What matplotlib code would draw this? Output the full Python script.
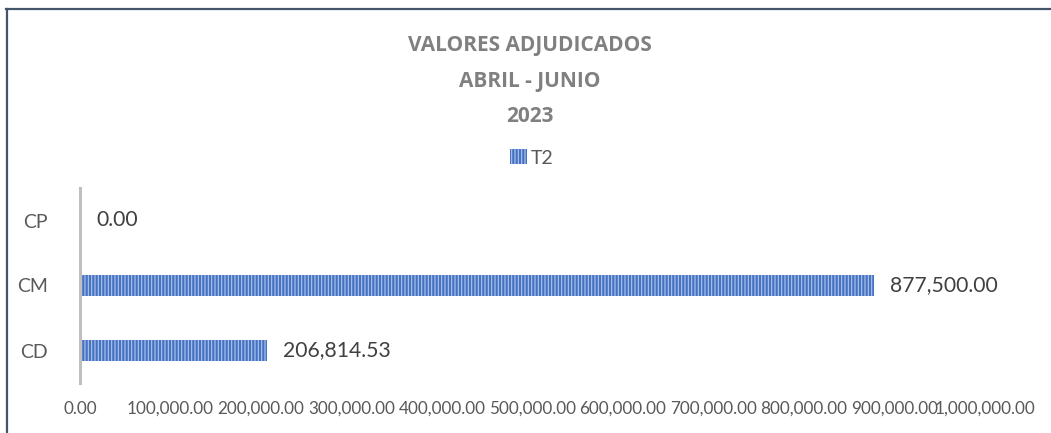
import matplotlib
matplotlib.use("Agg")
import matplotlib.pyplot as plt
from matplotlib.lines import Line2D
from matplotlib.ticker import FuncFormatter, MultipleLocator

categories = ["CD", "CM", "CP"]
values = [206814.53, 877500.00, 0.00]
series_name = "T2"
title_lines = ["VALORES ADJUDICADOS", "ABRIL - JUNIO", "2023"]

plt.rcParams['font.family'] = ['Lato', 'DejaVu Sans']
plt.rcParams['hatch.linewidth'] = 0.8

W, H = 1051, 433
fig = plt.figure(figsize=(W / 100, H / 100), dpi=100)
ax = fig.add_axes([80 / W, (H - 383) / H, 905 / W, 195 / H])

blue = "#4472C4"
light = "#B4C7E7"
y = list(range(len(categories)))
bars = ax.barh(y, values, height=0.32, color=blue, edgecolor=light,
               linewidth=0, hatch="|||||", label=series_name)

for yi, v in zip(y, values):
    ax.annotate(f"{v:,.2f}", xy=(v, yi), xytext=(11.5, 0), textcoords="offset points",
                va="center", ha="left", fontsize=15.2, color="#404040")

ax.set_xlim(0, 1000000)
ax.set_ylim(-0.5, 2.5)
ax.set_yticks(y)
ax.set_yticklabels(categories)
ax.xaxis.set_major_locator(MultipleLocator(100000))
ax.xaxis.set_major_formatter(FuncFormatter(lambda v, p: f"{v:,.2f}"))
ax.tick_params(axis="x", length=0, pad=13, labelsize=12.3, labelcolor="#595959")
ax.tick_params(axis="y", length=0, pad=23, labelsize=14, labelcolor="#595959")

for s in ["top", "right", "bottom"]:
    ax.spines[s].set_visible(False)
ax.spines["left"].set_color("#BFBFBF")
ax.spines["left"].set_linewidth(2.2)

ty = [46, 81, 116]
for t, yy in zip(title_lines, ty):
    fig.text(530 / W, 1 - yy / H, t, ha="center", va="center", fontsize=15,
             fontweight="bold", color="#808080", family=["Open Sans", "DejaVu Sans"])

fig.legend(handles=[bars], labels=[series_name], loc="center",
           bbox_to_anchor=(532 / W, 1 - 158 / H), frameon=False, fontsize=14,
           handlelength=0.85, handleheight=0.8, handletextpad=0.2,
           labelcolor="#595959")

# outer border (left and top)
fig.add_artist(Line2D([6.5 / W, 6.5 / W], [0, 1 - 8.5 / H], color="#44546A", linewidth=1.6,
                      transform=fig.transFigure))
fig.add_artist(Line2D([6 / W, 1], [1 - 8.5 / H, 1 - 8.5 / H], color="#44546A", linewidth=1.6,
                      transform=fig.transFigure))

fig.savefig("out.png", dpi=100)
